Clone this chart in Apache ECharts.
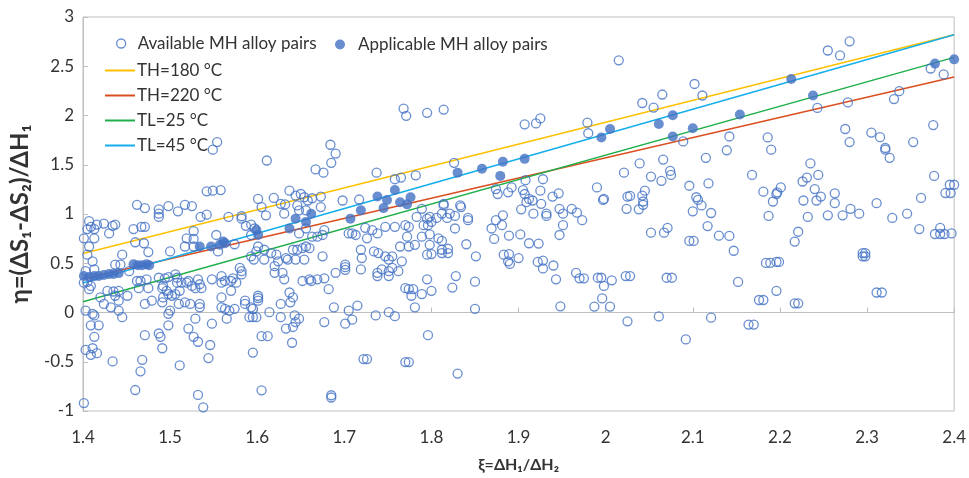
<!DOCTYPE html>
<html>
<head>
<meta charset="utf-8">
<script src="https://cdn.jsdelivr.net/npm/echarts@6/dist/echarts.min.js"></script>
<style>
  html, body { margin: 0; padding: 0; background: #fff; }
  #chart { width: 969px; height: 478px; }
</style>
</head>
<body>
<div id="chart"></div>
<script>
// ξ = ΔH1/ΔH2 and η = (ΔS1-ΔS2)/ΔH1 for every candidate MH alloy pair
const availablePairs = [
  [1.549,1.653],[1.554,1.73],[1.542,1.23],[1.549,1.237],[1.558,1.243],[1.601,1.153],
  [1.768,2.07],[1.771,1.997],[1.795,2.027],[1.684,1.703],[1.690,1.613],[1.685,1.52],[1.611,1.543],
  [1.667,1.453],[1.676,1.42],[1.737,1.42],[1.758,1.353],[1.765,1.37],[1.782,1.393],
  [1.619,1.163],[1.627,1.103],[1.632,1.097],[1.637,1.237],[1.644,1.187],[1.650,1.203],[1.654,1.17],
  [1.658,1.137],[1.663,1.16],[1.673,1.177],[1.698,1.137],[1.717,1.147],
  [1.814,2.06],[1.907,1.91],[1.920,1.92],[1.925,1.97],[1.979,1.927],[1.980,1.82],[1.826,1.52],
  [1.908,1.343],[1.928,1.353],[1.990,1.27],[1.997,1.143],[1.874,1.253],[1.876,1.203],[1.888,1.22],
  [1.892,1.27],[1.905,1.243],[1.907,1.203],[1.912,1.153],[1.916,1.137],[1.925,1.237],[1.939,1.177],
  [1.946,1.21],[1.909,1.12],[1.926,1.103],[1.833,1.087],[1.814,1.103],
  [2.015,2.56],[2.102,2.32],[2.111,2.203],[2.065,2.213],[2.055,2.08],[2.042,2.127],[2.089,1.737],
  [2.142,1.787],[2.139,1.647],[2.186,1.777],[2.190,1.653],[2.039,1.513],[2.066,1.553],[2.021,1.42],
  [2.052,1.38],[2.064,1.337],[2.074,1.437],[2.075,1.397],[2.115,1.57],[2.096,1.287],[2.118,1.31],
  [2.168,1.397],[2.181,1.227],[2.196,1.203],[1.998,1.153],[2.025,1.177],[2.028,1.183],[2.042,1.187],
  [2.045,1.237],[2.104,1.17],[2.106,1.143],[2.043,1.127],[2.192,1.127],
  [2.255,2.66],[2.269,2.61],[2.280,2.753],[2.373,2.477],[2.388,2.417],[2.243,2.077],[2.278,2.133],
  [2.331,2.167],[2.337,2.247],[2.275,1.863],[2.280,1.73],[2.305,1.827],[2.315,1.78],[2.321,1.67],
  [2.321,1.653],[2.326,1.57],[2.353,1.73],[2.376,1.903],[2.235,1.513],[2.226,1.33],[2.231,1.37],
  [2.244,1.397],[2.240,1.253],[2.201,1.27],[2.197,1.22],[2.377,1.387],[2.395,1.297],[2.400,1.297],
  [2.390,1.213],[2.396,1.213],[2.362,1.163],[2.227,1.137],[2.242,1.137],[2.247,1.177],[2.263,1.21],
  [2.263,1.11],[2.311,1.11],
  [1.462,1.093],[1.471,1.06],[1.487,1.047],[1.487,1.003],[1.487,0.97],[1.498,1.08],[1.509,1.027],
  [1.517,1.093],[1.525,1.08],[1.535,0.97],[1.542,0.993],[1.567,0.97],[1.582,0.977],[1.582,0.953],
  [1.407,0.927],[1.409,0.87],[1.416,0.893],[1.424,0.903],[1.434,0.88],[1.437,0.893],[1.405,0.847],
  [1.413,0.847],[1.430,0.803],[1.458,0.847],[1.467,0.87],[1.471,0.87],[1.527,0.827],[1.401,0.753],
  [1.413,0.753],[1.519,0.753],[1.527,0.747],[1.587,0.88],[1.593,0.893],[1.597,0.853],[1.593,0.787],
  [1.407,0.67],[1.460,0.713],[1.470,0.703],[1.475,0.613],[1.445,0.587],[1.500,0.62],[1.517,0.67],
  [1.527,0.67],[1.553,0.787],[1.555,0.62],[1.574,0.693],[1.405,0.587],[1.411,0.52],[1.437,0.487],
  [1.443,0.487],[1.403,0.42],[1.413,0.437],[1.453,0.42],[1.401,0.303],[1.409,0.27],[1.407,0.237],
  [1.405,0.31],[1.428,0.22],[1.435,0.213],[1.441,0.22],[1.462,0.32],[1.466,0.32],[1.473,0.337],
  [1.464,0.247],[1.475,0.247],[1.487,0.353],[1.494,0.347],[1.498,0.36],[1.506,0.387],[1.508,0.353],
  [1.508,0.303],[1.492,0.27],[1.491,0.247],[1.496,0.22],[1.498,0.187],[1.502,0.17],[1.506,0.187],
  [1.511,0.22],[1.513,0.303],[1.519,0.303],[1.521,0.32],[1.525,0.27],[1.529,0.247],[1.532,0.337],
  [1.534,0.287],[1.536,0.247],[1.548,0.337],[1.559,0.37],[1.559,0.303],[1.563,0.32],[1.570,0.32],
  [1.572,0.347],[1.576,0.303],[1.580,0.453],[1.582,0.42],[1.582,0.387],[1.593,0.57],[1.596,0.537],
  [1.599,0.62],[1.420,0.153],[1.424,0.087],[1.432,0.053],[1.437,0.17],[1.441,0.12],[1.451,0.17],
  [1.403,0.02],[1.411,-0.013],[1.413,-0.03],[1.441,0.02],[1.445,-0.047],[1.471,0.087],[1.479,0.12],
  [1.491,0.103],[1.492,0.153],[1.500,0.02],[1.498,-0.013],[1.510,0.087],[1.517,0.103],[1.523,0.087],
  [1.534,0.087],[1.534,0.053],[1.559,0.153],[1.559,0.053],[1.563,0.037],[1.570,0.22],[1.574,0.037],
  [1.586,0.12],[1.586,0.087],[1.593,0.053],[1.595,-0.047],[1.601,0.17],[1.409,-0.13],[1.418,-0.13],
  [1.471,-0.23],[1.487,-0.213],[1.489,-0.247],[1.491,-0.363],[1.498,-0.13],[1.521,-0.163],
  [1.529,-0.063],[1.527,-0.247],[1.532,-0.297],[1.546,-0.33],[1.548,-0.113],[1.565,-0.063],
  [1.568,0.02],[1.591,-0.047],[1.413,-0.247],[1.403,-0.38],[1.411,-0.363],[1.409,-0.43],[1.416,-0.413],
  [1.434,-0.497],[1.468,-0.48],[1.466,-0.597],[1.511,-0.537],[1.544,-0.463],[1.460,-0.787],
  [1.532,-0.837],[1.538,-0.963],[1.401,-0.92],[1.595,-0.407],
  [1.605,1.07],[1.610,0.987],[1.631,1.003],[1.648,1.037],[1.656,1.037],[1.673,1.07],[1.646,1.087],
  [1.601,0.67],[1.608,0.637],[1.616,0.603],[1.622,0.587],[1.624,0.52],[1.620,0.47],[1.633,0.553],
  [1.635,0.537],[1.641,0.637],[1.646,0.637],[1.652,0.653],[1.656,0.67],[1.660,0.653],[1.654,0.537],
  [1.644,0.537],[1.608,0.537],[1.620,0.403],[1.629,0.403],[1.631,0.337],[1.652,0.32],[1.660,0.337],
  [1.662,0.32],[1.669,0.337],[1.677,0.347],[1.675,0.57],[1.690,0.403],[1.701,0.487],[1.701,0.46],
  [1.701,0.433],[1.719,0.437],[1.720,0.553],[1.719,0.637],[1.726,0.753],[1.734,0.62],[1.739,0.603],
  [1.747,0.57],[1.751,0.537],[1.755,0.57],[1.751,0.42],[1.738,0.403],[1.738,0.37],[1.743,0.437],
  [1.751,0.37],[1.762,0.42],[1.766,0.52],[1.755,0.453],[1.764,0.67],[1.774,0.67],[1.781,0.687],
  [1.795,0.587],[1.789,0.77],[1.772,0.77],[1.774,0.87],[1.791,0.887],[1.795,0.953],[1.800,0.92],
  [1.789,1.053],[1.783,0.97],[1.770,0.887],[1.758,0.87],[1.747,0.87],[1.738,0.803],[1.732,0.837],
  [1.724,0.86],[1.713,0.787],[1.709,0.803],[1.705,0.803],[1.675,0.787],[1.669,0.77],[1.663,0.77],
  [1.677,0.837],[1.648,0.803],[1.656,0.853],[1.795,0.337],[1.800,0.22],[1.774,0.237],[1.779,0.237],
  [1.777,0.17],[1.789,0.187],[1.781,0.053],[1.770,0.247],[1.601,0.147],[1.601,0.12],
  [1.595,0.037],[1.599,-0.047],[1.614,0.003],[1.627,0.087],[1.627,-0.047],[1.637,0.203],[1.641,0.153],
  [1.638,0.103],[1.643,-0.03],[1.648,-0.063],[1.633,-0.163],[1.641,-0.147],[1.644,-0.097],
  [1.682,0.237],[1.677,-0.097],[1.688,0.053],[1.701,-0.113],[1.705,0.02],[1.715,0.07],[1.709,-0.073],
  [1.736,-0.03],[1.751,0.003],[1.758,-0.037],[1.796,-0.23],[1.605,-0.24],[1.612,-0.24],[1.640,-0.307],
  [1.722,-0.473],[1.726,-0.473],[1.770,-0.503],[1.774,-0.503],[1.605,-0.79],[1.685,-0.84],[1.685,-0.863],
  [1.798,0.97],[1.806,0.96],[1.812,1.003],[1.814,1.087],[1.821,1.003],[1.827,0.98],[1.834,1.07],
  [1.818,0.96],[1.842,0.96],[1.842,0.937],[1.827,0.853],[1.798,0.793],[1.796,0.887],[1.808,0.753],
  [1.812,0.727],[1.798,0.687],[1.800,0.593],[1.812,0.637],[1.812,0.603],[1.819,0.647],[1.819,0.603],
  [1.840,0.693],[1.851,0.57],[1.869,0.853],[1.874,0.937],[1.882,0.987],[1.881,0.887],[1.872,0.747],
  [1.889,0.78],[1.902,0.793],[1.883,0.587],[1.889,0.593],[1.888,0.52],[1.890,0.493],[1.900,0.553],
  [1.912,0.703],[1.923,0.70],[1.903,1.047],[1.917,1.003],[1.932,1.003],[1.932,0.98],[1.947,1.053],
  [1.951,1.003],[1.961,1.053],[1.967,1.013],[1.973,0.937],[1.951,0.887],[1.947,0.787],[1.922,0.513],
  [1.928,0.527],[1.928,0.447],[1.940,0.477],[1.943,0.337],[1.966,0.403],[1.970,0.347],[1.975,0.347],
  [1.991,0.353],[1.995,0.353],[1.998,0.27],[1.996,0.143],[1.987,0.06],[1.948,0.063],[1.828,0.37],
  [1.824,0.253],[1.850,0.313],[1.850,0.037],[1.830,-0.62],
  [2.024,1.053],[2.038,1.047],[2.043,1.093],[2.100,1.027],[2.110,1.087],[2.121,1.01],[2.117,0.877],
  [2.130,0.78],[2.142,0.777],[2.147,0.627],[2.096,0.727],[2.101,0.727],[2.052,0.81],[2.067,0.81],
  [2.071,0.86],[2.187,0.98],[2.007,0.327],[2.023,0.37],[2.028,0.37],[2.070,0.353],[2.076,0.353],
  [2.152,0.31],[2.184,0.503],[2.189,0.503],[2.196,0.513],[2.196,0.22],[2.176,0.127],[2.181,0.127],
  [2.164,-0.123],[2.170,-0.123],[2.121,-0.053],[2.061,-0.04],[2.025,-0.09],[2.005,0.06],[2.092,-0.273],
  [2.232,0.97],[2.255,0.987],[2.272,0.987],[2.281,1.053],[2.291,1.003],[2.329,0.96],[2.346,1.003],
  [2.360,0.847],[2.384,0.86],[2.378,0.797],[2.384,0.797],[2.389,0.797],[2.397,0.803],[2.221,0.82],
  [2.217,0.72],[2.199,0.513],[2.217,0.093],[2.221,0.093],[2.295,0.603],[2.298,0.603],[2.295,0.57],
  [2.298,0.57],[2.311,0.203],[2.317,0.203]
];

// pairs that satisfy the operating temperatures
const applicablePairs = [
  [1.401,0.37],[1.407,0.36],[1.413,0.37],[1.418,0.37],[1.424,0.38],[1.430,0.39],[1.435,0.39],[1.441,0.40],
  [1.458,0.49],[1.463,0.48],[1.468,0.48],[1.473,0.49],[1.476,0.48],
  [1.534,0.67],[1.547,0.67],[1.557,0.687],[1.561,0.72],[1.563,0.703],
  [1.599,0.837],[1.601,0.787],
  [1.637,0.853],[1.644,0.953],[1.656,0.92],[1.662,1.003],
  [1.707,0.953],[1.719,1.037],
  [1.738,1.177],[1.745,1.06],[1.749,1.143],[1.758,1.243],[1.764,1.12],[1.772,1.098],[1.776,1.17],
  [1.830,1.42],[1.858,1.46],[1.879,1.387],[1.882,1.53],[1.907,1.56],[1.995,1.777],
  [2.005,1.863],[2.061,1.913],[2.077,2.003],[2.077,1.787],[2.100,1.87],[2.154,2.01],
  [2.213,2.37],[2.238,2.203],[2.378,2.527],[2.400,2.57]
];

// boundary lines, given at the two ends of the ξ range
const lineXi = [1.4, 2.4];
const th180 = [0.60, 2.82];
const th220 = [0.34, 2.39];
const tl25  = [0.11, 2.59];
const tl45  = [0.30, 2.82];

const xTicks = { min: 1.4, max: 2.4, step: 0.1 };
const yTicks = { min: -1, max: 3, step: 0.5 };

const FONT = 'Lato, "Open Sans", sans-serif';
const TEXT = '#333333';
const AXIS = '#BFBFBF';
const MARK = '#4472C4';

const names = {
  avail: 'Available MH alloy pairs',
  appl: 'Applicable MH alloy pairs',
  th180: 'TH=180 °C',
  th220: 'TH=220 °C',
  tl25: 'TL=25 °C',
  tl45: 'TL=45 °C'
};

function linePoints(vals) {
  return lineXi.map((x, i) => [x, vals[i]]);
}
function lineSeries(name, vals, color) {
  return {
    name, type: 'line', data: linePoints(vals), symbol: 'none', showSymbol: false,
    lineStyle: { color, width: 1.5 }, itemStyle: { color }, z: 2, silent: true
  };
}
function fmt(v) { return String(+v.toFixed(1)); }

// one legend per boundary line, drawn as a short flat stroke
const lineLegend = (name, centerY) => ({
  data: [{ name, icon: 'rect' }], left: 105, top: centerY - 1, orient: 'horizontal', padding: 0,
  itemWidth: 30, itemHeight: 2,
  textStyle: { fontFamily: FONT, fontSize: 17, color: TEXT, padding: [0, 0, 0, -3] }
});

const chart = echarts.init(document.getElementById('chart'), null, { renderer: 'canvas' });
chart.setOption({
  animation: false,
  backgroundColor: '#ffffff',
  grid: { left: 79, right: 12, top: 17, bottom: 60, show: true, borderColor: AXIS, borderWidth: 1 },
  legend: [
    {
      data: [{ name: names.avail, icon: 'circle' }], left: 116, top: 35, padding: 0,
      itemWidth: 9, itemHeight: 9,
      itemStyle: { color: 'rgba(255,255,255,0)', borderColor: MARK, borderWidth: 1.3 },
      textStyle: { fontFamily: FONT, fontSize: 17, color: TEXT, padding: [0, 0, 0, 7] }
    },
    {
      data: [{ name: names.appl, icon: 'circle' }], left: 335, top: 36, padding: 0,
      itemWidth: 10, itemHeight: 10,
      textStyle: { fontFamily: FONT, fontSize: 17, color: TEXT, padding: [0, 0, 0, 8] }
    },
    lineLegend(names.th180, 63),
    lineLegend(names.th220, 88),
    lineLegend(names.tl25, 113),
    lineLegend(names.tl45, 138)
  ],
  xAxis: {
    type: 'value', min: xTicks.min, max: xTicks.max, interval: xTicks.step,
    name: 'ξ=ΔH₁/ΔH₂', nameLocation: 'middle', nameGap: 46,
    nameTextStyle: { fontFamily: FONT, fontSize: 16, fontWeight: 'bold', color: TEXT },
    axisLine: { show: true, lineStyle: { color: AXIS, width: 1 } },
    axisTick: { show: true, inside: true, length: 5, lineStyle: { color: AXIS } },
    splitLine: { show: false },
    axisLabel: { fontFamily: FONT, fontSize: 17, color: TEXT, margin: 18, formatter: fmt }
  },
  yAxis: {
    type: 'value', min: yTicks.min, max: yTicks.max, interval: yTicks.step,
    name: 'η=(ΔS₁-ΔS₂)/ΔH₁', nameLocation: 'middle', nameGap: 51, nameRotate: 90,
    nameTextStyle: { fontFamily: FONT, fontSize: 24, fontWeight: 'bold', color: TEXT },
    axisLine: { show: true, lineStyle: { color: AXIS, width: 1 } },
    axisTick: { show: true, inside: true, length: 5, lineStyle: { color: AXIS } },
    splitLine: { show: false },
    axisLabel: { fontFamily: FONT, fontSize: 17, color: TEXT, margin: 9, formatter: fmt }
  },
  series: [
    lineSeries(names.th180, th180, '#FFC000'),
    lineSeries(names.th220, th220, '#DA4F1F'),
    lineSeries(names.tl25, tl25, '#1FAF4B'),
    lineSeries(names.tl45, tl45, '#14AEEA'),
    {
      name: names.avail, type: 'scatter', data: availablePairs, symbol: 'circle', symbolSize: 9,
      clip: false, z: 3,
      itemStyle: { color: 'rgba(255,255,255,0)', borderColor: MARK, borderWidth: 1.3 }
    },
    {
      name: names.appl, type: 'scatter', data: applicablePairs, symbol: 'circle', symbolSize: 10,
      clip: false, z: 4,
      itemStyle: { color: MARK }
    }
  ]
});
</script>
</body>
</html>
